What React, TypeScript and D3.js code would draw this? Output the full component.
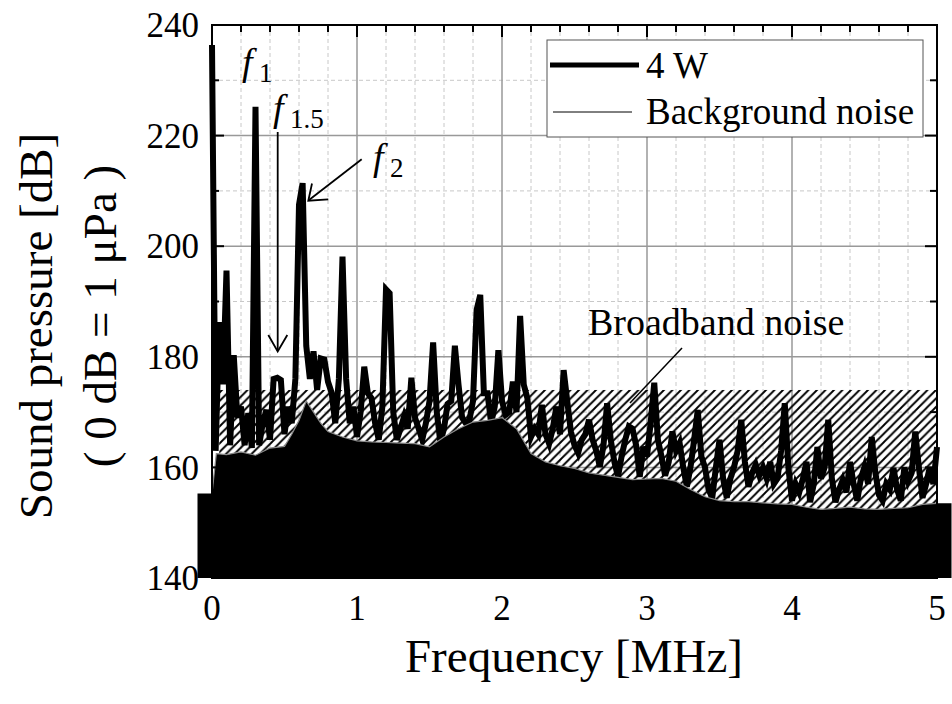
import React from 'react';
import * as d3 from 'd3';

// ---- data ----
const xTicks = [0, 1, 2, 3, 4, 5];
const yTicks = [140, 160, 180, 200, 220, 240];
const freqStep = 0.025; // MHz between samples of the 4 W spectrum
const power4W = [
  236.4, 163, 186.3, 175, 195.6, 164, 180.3, 169, 171, 164,
  169.8, 163.5, 225.2, 164, 168, 170.4, 165, 176, 176.2, 175.8,
  166, 171, 168, 176, 207.5, 211.4, 182, 176, 181, 174,
  179.7, 179.5, 175.5, 173.5, 168, 176, 198.1, 176, 168, 171,
  165.5, 170, 178.2, 173.4, 172.5, 168, 165, 171, 192.2, 191.5,
  170, 165, 167, 169.2, 167, 176.2, 169, 167, 165, 168,
  172, 182.6, 170, 164.5, 167, 171.5, 172, 182, 175, 169,
  168, 168.5, 172, 188.5, 191.2, 173.4, 173.4, 168, 171, 181.2,
  172, 169.5, 170, 175.5, 170, 187.4, 175, 172.5, 165.5, 167,
  166, 171.3, 166, 164.3, 167, 171, 166, 177.6, 172, 166.5,
  164, 162.6, 165, 166, 168.6, 165, 163, 160.1, 164, 171.6,
  165, 161, 158.3, 162, 165, 167.4, 167, 164, 158.3, 163.7,
  162, 168, 175.3, 165, 162, 158.5, 161, 166.5, 163, 164.4,
  160, 156.5, 160, 165, 170.4, 162, 160, 156, 154.5, 160,
  165, 158, 154.5, 158, 160, 163, 168.6, 161, 156.5, 159,
  160.5, 158.5, 160, 158, 161, 157, 158, 163, 171.6, 160,
  154, 157, 155.5, 158, 161, 153.7, 157, 163.7, 158, 160,
  168.6, 158, 153.7, 156, 157.7, 155.5, 161, 157, 154, 158,
  160.1, 157, 165.5, 159, 155, 154, 157, 156, 159.9, 156,
  154, 160, 157.5, 159, 166.5, 160, 154.5, 157, 160, 157,
  163.7,
];
const bgFreq = [
  -0.1, 0.0, 0.03, 0.1, 0.2, 0.3, 0.4, 0.5, 0.55, 0.6, 0.65, 0.7, 0.75, 0.8, 0.9,
  1.0, 1.1, 1.2, 1.3, 1.4, 1.5, 1.6, 1.7, 1.8, 1.9, 2.0, 2.1, 2.2, 2.3, 2.4, 2.5,
  2.6, 2.7, 2.8, 2.9, 3.0, 3.1, 3.2, 3.3, 3.4, 3.5, 3.6, 3.7, 3.8, 3.9, 4.0, 4.1,
  4.2, 4.3, 4.4, 4.5, 4.6, 4.7, 4.8, 4.9, 5.0, 5.1,
];
const bgLevel = [
  155.3, 155.3, 162.5, 162.3, 162.8, 162.2, 163.5, 163.8, 166, 168.5, 172, 170, 168, 166.5, 165.5,
  164.8, 164.6, 164.5, 164.4, 164.3, 163.7, 165.5, 167, 168.2, 168.5, 169, 167, 162.5, 161, 160.3, 159.8,
  159, 158.6, 158.2, 157.8, 157.9, 158, 157.5, 156, 154.7, 154, 153.8, 153.8, 153.6, 153.4, 153.3, 152.8,
  152.4, 152.6, 152.8, 152.5, 152.4, 152.6, 152.7, 153.3, 153.5, 153.5,
];
const broadbandTop = 174;
const broadbandFreq = [0.05, 5.0];

const FONT = "'Liberation Serif', 'Times New Roman', Times, 'DejaVu Serif', serif";
const T = { fontFamily: FONT };

export default function App() {
  const W = 952, H = 704;
  const x = d3.scaleLinear().domain([0, 5]).range([212, 937]);
  const y = d3.scaleLinear().domain([140, 240]).range([578, 25]);

  const sig: [number, number][] = power4W.map((v, i) => [i * freqStep, v]);
  const bg: [number, number][] = bgFreq.map((f, i) => [f, bgLevel[i]]);

  const line = d3.line<[number, number]>().x(d => x(d[0])).y(d => y(d[1]));
  const area = d3.area<[number, number]>().x(d => x(d[0])).y0(y(140)).y1(d => y(d[1]));

  const minorX = d3.range(0, 5.0001, 0.2).filter(v => Math.abs(v - Math.round(v)) > 1e-6);
  const minorY = d3.range(150, 240, 20);
  const allXTicks = d3.range(0, 5.0001, 0.2);
  const allYTicks = d3.range(140, 240.001, 10);

  const x0 = x(0), x1 = x(5), yTop = y(240), yBot = y(140);

  return (
    <svg width={W} height={H} style={{ position: 'absolute', left: 0, top: 0, background: '#fff' }}>
      <defs>
        <pattern id="hatch" patternUnits="userSpaceOnUse" width={8.5} height={8.5}>
          <path d="M0,8.5 L8.5,0 M-2,2 L2,-2 M6.5,10.5 L10.5,6.5" stroke="#000" strokeWidth={1.9} />
        </pattern>
      </defs>
      {/* grid */}
      {minorX.map((v, i) => (
        <line key={'mx' + i} x1={x(v)} x2={x(v)} y1={yTop} y2={yBot} stroke="#c8c8c8" strokeWidth={1} strokeDasharray="4,3" />
      ))}
      {minorY.map((v, i) => (
        <line key={'my' + i} x1={x0} x2={x1} y1={y(v)} y2={y(v)} stroke="#c8c8c8" strokeWidth={1} strokeDasharray="4,3" />
      ))}
      {xTicks.slice(1, -1).map((v, i) => (
        <line key={'gx' + i} x1={x(v)} x2={x(v)} y1={yTop} y2={yBot} stroke="#999" strokeWidth={1.5} />
      ))}
      {yTicks.slice(1, -1).map((v, i) => (
        <line key={'gy' + i} x1={x0} x2={x1} y1={y(v)} y2={y(v)} stroke="#999" strokeWidth={1.5} />
      ))}

      {/* broadband noise hatch */}
      <rect x={x(broadbandFreq[0])} y={y(broadbandTop)} width={x(broadbandFreq[1]) - x(broadbandFreq[0])}
        height={y(148) - y(broadbandTop)} fill="url(#hatch)" />

      {/* background noise fill */}
      <path d={area(bg) || ''} fill="#000" />

      {/* 4 W spectrum */}
      <path d={line(sig) || ''} fill="none" stroke="#000" strokeWidth={6} strokeLinejoin="miter" />

      {/* background noise line */}
      <path d={line(bg.filter(d => d[0] >= 0.0 && d[0] <= 5.0)) || ''} fill="none" stroke="#8a8a8a" strokeWidth={1.2} />

      {/* frame */}
      <rect x={x0} y={yTop} width={x1 - x0} height={yBot - yTop} fill="none" stroke="#000" strokeWidth={2} />
      {allXTicks.map((v, i) => {
        const major = Math.abs(v - Math.round(v)) < 1e-6;
        const len = major ? 12 : 7;
        return (
          <g key={'tx' + i}>
            <line x1={x(v)} x2={x(v)} y1={yTop} y2={yTop + len} stroke="#000" strokeWidth={2} />
            <line x1={x(v)} x2={x(v)} y1={yBot} y2={yBot - len} stroke="#000" strokeWidth={2} />
          </g>
        );
      })}
      {allYTicks.map((v, i) => {
        const major = v % 20 === 0;
        const len = major ? 12 : 7;
        return (
          <g key={'ty' + i}>
            <line x1={x0} x2={x0 + len} y1={y(v)} y2={y(v)} stroke="#000" strokeWidth={2} />
            <line x1={x1} x2={x1 - len} y1={y(v)} y2={y(v)} stroke="#000" strokeWidth={2} />
          </g>
        );
      })}

      {/* tick labels */}
      {yTicks.map(v => (
        <text key={'ly' + v} x={199} y={y(v)} dy="0.35em" textAnchor="end" style={T} fontSize={35} fill="#000">{v}</text>
      ))}
      {xTicks.map(v => (
        <text key={'lx' + v} x={x(v)} y={620} textAnchor="middle" style={T} fontSize={35} fill="#000">{v}</text>
      ))}

      {/* axis titles */}
      <text x={574} y={672} textAnchor="middle" style={T} fontSize={47} fill="#000">Frequency [MHz]</text>
      <text transform="translate(52,326) rotate(-90)" textAnchor="middle" style={T} fontSize={47} fill="#000">Sound pressure [dB]</text>
      <text transform="translate(116,316) rotate(-90)" textAnchor="middle" style={T} fontSize={47} fill="#000">( 0 dB = 1 μPa )</text>

      {/* legend */}
      <rect x={547} y={40} width={376} height={97} fill="#fff" stroke="#555" strokeWidth={1} />
      <line x1={550} x2={639} y1={65} y2={65} stroke="#000" strokeWidth={5} />
      <text x={646} y={78} style={T} fontSize={37} fill="#000">4 W</text>
      <line x1={553} x2={632} y1={112} y2={112} stroke="#000" strokeWidth={1} />
      <text x={646} y={124} style={T} fontSize={37} fill="#000">Background noise</text>

      {/* annotations */}
      <text x={242} y={75} style={T} fontStyle="italic" fontSize={38} fill="#000">f</text>
      <text x={259} y={82} style={T} fontSize={27} fill="#000">1</text>

      <text x={273} y={121} style={T} fontStyle="italic" fontSize={38} fill="#000">f</text>
      <text x={290} y={128} style={T} fontSize={27} fill="#000">1.5</text>
      <line x1={277.7} x2={277.7} y1={132} y2={351} stroke="#000" strokeWidth={1.8} />
      <polyline points="268.3,335 277.7,351.5 287.3,335" fill="none" stroke="#000" strokeWidth={1.8} />

      <text x={373} y={170} style={T} fontStyle="italic" fontSize={38} fill="#000">f</text>
      <text x={390} y={177} style={T} fontSize={27} fill="#000">2</text>
      <line x1={361.7} y1={159.3} x2={309} y2={200} stroke="#000" strokeWidth={1.8} />
      <polyline points="312,183.5 308.3,200.7 328.3,199.3" fill="none" stroke="#000" strokeWidth={1.8} />

      <text x={588} y={335} style={T} fontSize={38} fill="#000">Broadband noise</text>
      <line x1={682} y1={348} x2={630} y2={403} stroke="#000" strokeWidth={1.5} />
    </svg>
  );
}
